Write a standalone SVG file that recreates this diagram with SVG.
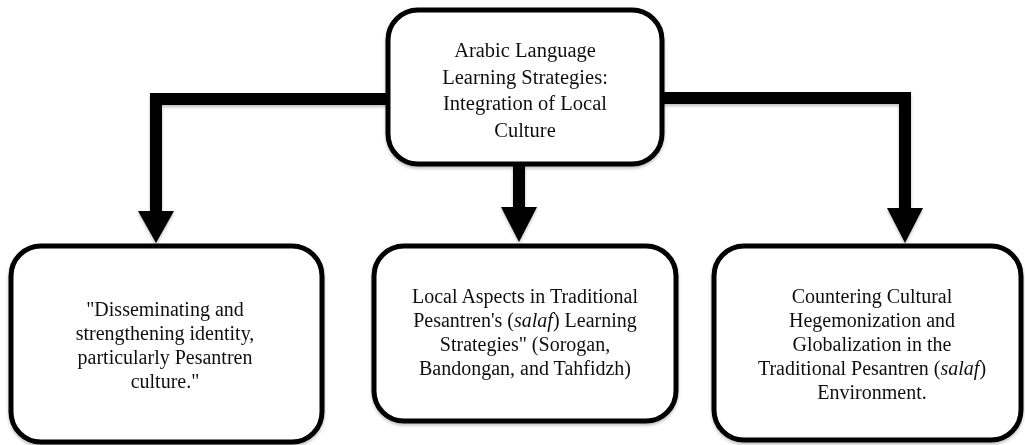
<svg xmlns="http://www.w3.org/2000/svg" width="1025" height="445" viewBox="0 0 1025 445">
  <style>
    .box { fill: #ffffff; stroke: #000000; stroke-width: 5; }
    .bar { fill: none; stroke: #000000; stroke-width: 12; stroke-linejoin: miter; }
    .head { fill: #000000; }
    .t { font-family: "Liberation Serif", "Times New Roman", serif; font-size: 20px; fill: #111111; text-anchor: middle; }
    .t1 { font-size: 20.5px; }
    .it { font-style: italic; }
  </style>
  <defs>
    <filter id="sh" x="-10%" y="-10%" width="120%" height="130%">
      <feDropShadow dx="0" dy="2" stdDeviation="1.5" flood-color="#000000" flood-opacity="0.25"/>
    </filter>
  </defs>
  <g id="connectors" filter="url(#sh)">
    <path class="bar" d="M 390 99 L 156 99 L 156 212"/>
    <polygon class="head" points="138,211 174,211 156,243"/>
    <path class="bar" d="M 519 163 L 519 208"/>
    <polygon class="head" points="501,207 537,207 519,242"/>
    <path class="bar" d="M 660 98 L 905 98 L 905 210"/>
    <polygon class="head" points="887,208 923,208 905,243"/>
  </g>
  <g id="top-node" filter="url(#sh)">
    <rect class="box" x="388" y="10" width="274" height="154" rx="30" ry="30"/>
    <text class="t t1" x="525" y="57">Arabic Language</text>
    <text class="t t1" x="525" y="83.5">Learning Strategies:</text>
    <text class="t t1" x="525" y="110">Integration of Local</text>
    <text class="t t1" x="525" y="136.5">Culture</text>
  </g>
  <g id="left-node" filter="url(#sh)">
    <rect class="box" x="11" y="246" width="311" height="196" rx="30" ry="30"/>
    <text class="t" x="165" y="316">"Disseminating and</text>
    <text class="t" x="165" y="340">strengthening identity,</text>
    <text class="t" x="165" y="364">particularly Pesantren</text>
    <text class="t" x="165" y="388">culture."</text>
  </g>
  <g id="middle-node" filter="url(#sh)">
    <rect class="box" x="374" y="246" width="302" height="175" rx="30" ry="30"/>
    <text class="t" x="525" y="303">Local Aspects in Traditional</text>
    <text class="t" x="525" y="327">Pesantren's (<tspan class="it">salaf</tspan>) Learning</text>
    <text class="t" x="525" y="351">Strategies" (Sorogan,</text>
    <text class="t" x="525" y="375">Bandongan, and Tahfidzh)</text>
  </g>
  <g id="right-node" filter="url(#sh)">
    <rect class="box" x="714" y="246" width="307" height="194" rx="30" ry="30"/>
    <text class="t" x="872" y="303">Countering Cultural</text>
    <text class="t" x="872" y="327">Hegemonization and</text>
    <text class="t" x="872" y="351">Globalization in the</text>
    <text class="t" x="872" y="375">Traditional Pesantren (<tspan class="it">salaf</tspan>)</text>
    <text class="t" x="872" y="399">Environment.</text>
  </g>
</svg>
